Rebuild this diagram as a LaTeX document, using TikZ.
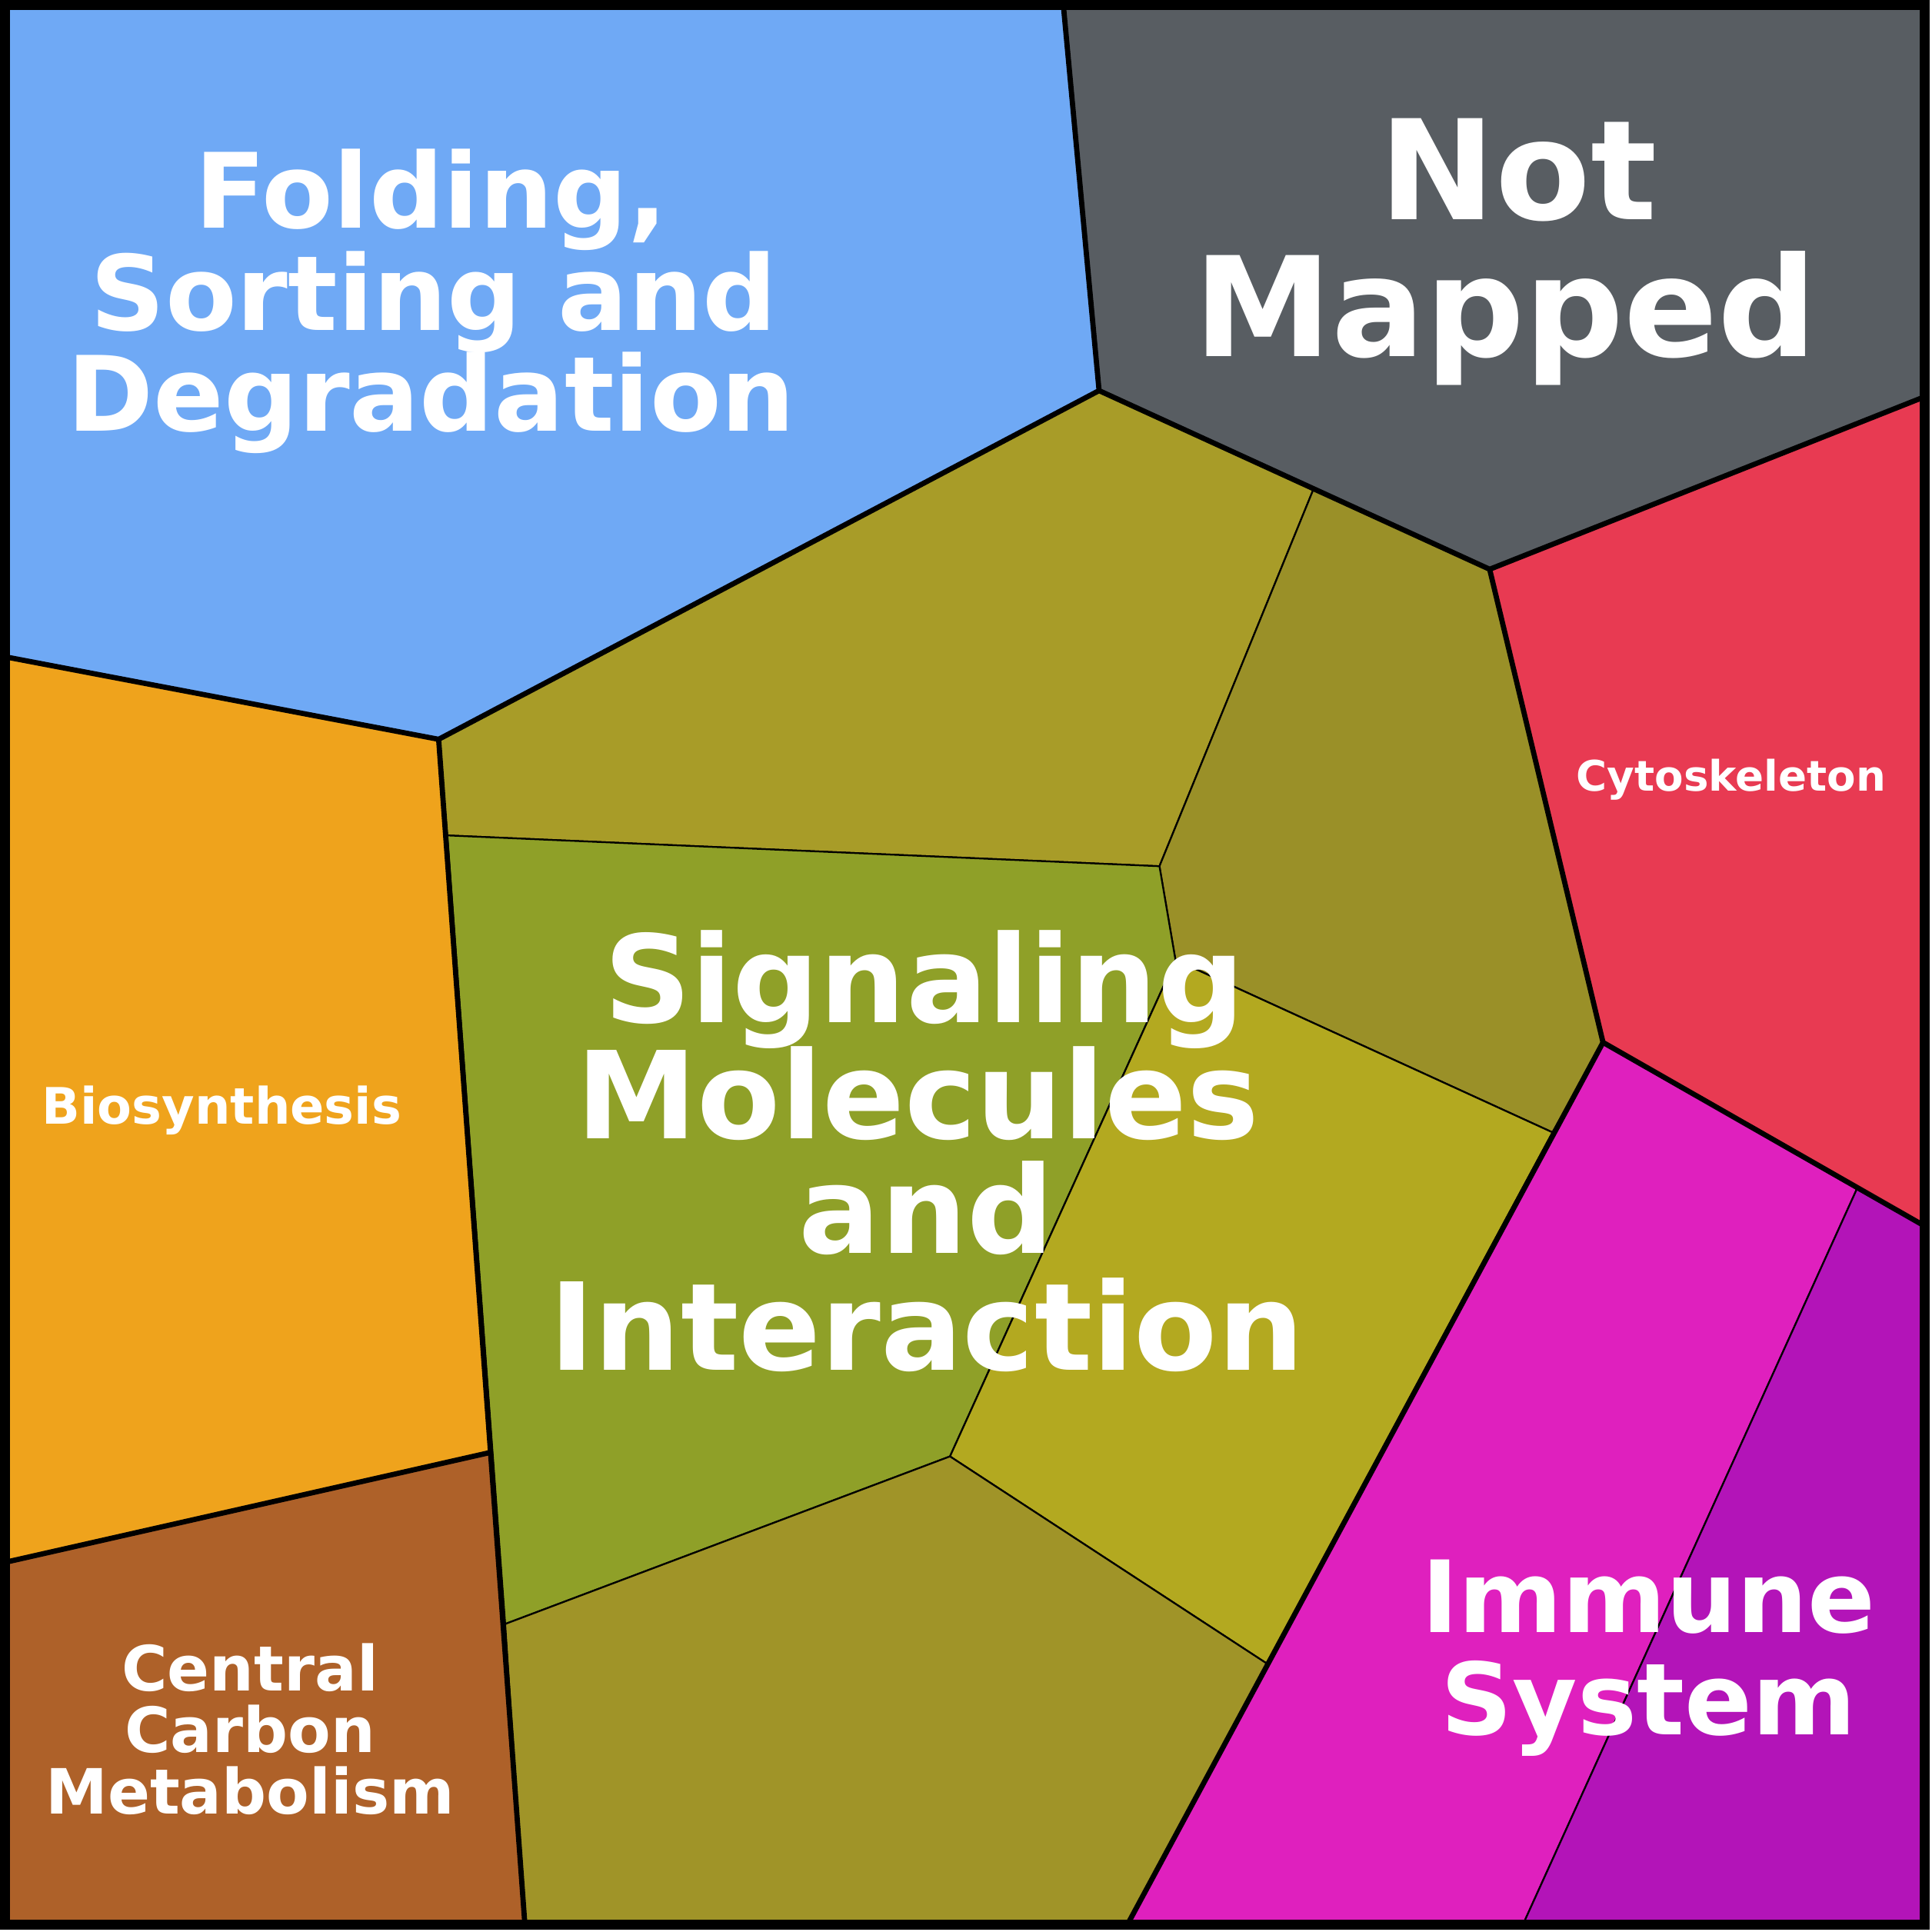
\documentclass[tikz,border=0pt]{standalone}
\usepackage{fontspec}
\setmainfont{DejaVu Sans}
\begin{document}
\begin{tikzpicture}[x=0.01cm,y=-0.01cm,
 cell/.style={draw=black,line width=0.4pt},
 grp/.style={draw=black,line width=1.2pt,line join=round},
 lab/.style={anchor=base,text=white,inner sep=0pt,font=\bfseries}]
\useasboundingbox (0,0) rectangle (1568,1568);
\coordinate (TL) at (4,4); \coordinate (TR) at (1562,4);
\coordinate (BL) at (4,1562); \coordinate (BR) at (1562,1562);
\coordinate (A) at (863,4); \coordinate (B) at (892,317);
\coordinate (C) at (1209,462); \coordinate (D) at (1562,322);
\coordinate (E) at (1301,846); \coordinate (F) at (1562,995);
\coordinate (G) at (915,1562); \coordinate (H) at (426,1562);
\coordinate (I) at (356,600); \coordinate (J) at (4,533);
\coordinate (K) at (397,1179); \coordinate (L) at (4,1268);
\coordinate (M) at (1066,397); \coordinate (N) at (941,703);
\coordinate (O) at (363,678); \coordinate (Q) at (954,779);
\coordinate (R) at (1260,919); \coordinate (S) at (771,1182);
\coordinate (T) at (410,1318); \coordinate (U) at (1028,1350);
\coordinate (V) at (1507,965); \coordinate (W) at (1236,1562);
\definecolor{cblue}{HTML}{6FA9F5}\definecolor{cgrey}{HTML}{585D62}
\definecolor{cred}{HTML}{E83A52}\definecolor{corange}{HTML}{EFA31C}
\definecolor{cbrown}{HTML}{AE6129}\definecolor{cmag}{HTML}{DF20BE}
\definecolor{cpur}{HTML}{B314B8}\definecolor{col1}{HTML}{A89C28}
\definecolor{col2}{HTML}{9A9028}\definecolor{col3}{HTML}{8FA028}
\definecolor{col4}{HTML}{B3A920}\definecolor{col5}{HTML}{A09428}
\fill[cblue] (TL)--(A)--(B)--(I)--(J)--cycle;
\fill[cgrey] (A)--(TR)--(D)--(C)--(B)--cycle;
\fill[cred] (C)--(D)--(F)--(E)--cycle;
\fill[corange] (J)--(I)--(K)--(L)--cycle;
\fill[cbrown] (L)--(K)--(H)--(BL)--cycle;
\filldraw[fill=cmag,cell] (E)--(V)--(W)--(G)--cycle;
\filldraw[fill=cpur,cell] (V)--(F)--(BR)--(W)--cycle;
\filldraw[fill=col1,cell] (I)--(B)--(M)--(N)--(O)--cycle;
\filldraw[fill=col2,cell] (M)--(C)--(E)--(R)--(Q)--(N)--cycle;
\filldraw[fill=col3,cell] (O)--(N)--(Q)--(S)--(T)--cycle;
\filldraw[fill=col4,cell] (Q)--(R)--(U)--(S)--cycle;
\filldraw[fill=col5,cell] (T)--(S)--(U)--(G)--(H)--cycle;
\draw[grp] (A)--(B)--(I)--(J);
\draw[grp] (B)--(C)--(D);
\draw[grp] (C)--(E)--(F);
\draw[grp] (I)--(H);
\draw[grp] (K)--(L);
\draw[grp] (E)--(G);
\draw[draw=black,line width=2.3pt] (TL) rectangle (BR);
\begin{scope}[lab/.append style={font=\bfseries\fontsize{24}{24}\selectfont}]
\node[lab] (f1) at (350,185) {Folding,};
\node[lab] (f2) at (352,268) {Sorting and};
\node[lab] (f3) at (350,350) {Degradation};
\end{scope}
\begin{scope}[lab/.append style={font=\bfseries\fontsize{32}{32}\selectfont}]
\node[lab] (n1) at (1232,178) {Not};
\node[lab] (n2) at (1222,289) {Mapped};
\end{scope}
\begin{scope}[lab/.append style={font=\bfseries\fontsize{28}{28}\selectfont}]
\node[lab] (s1) at (750,830) {Signaling};
\node[lab] (s2) at (745,924) {Molecules};
\node[lab] (s3) at (752,1017) {and};
\node[lab] (s4) at (752,1112) {Interaction};
\end{scope}
\begin{scope}[lab/.append style={font=\bfseries\fontsize{23}{23}\selectfont}]
\node[lab] (i1) at (1338,1325) {Immune};
\node[lab] (i2) at (1338,1408) {System};
\end{scope}
\begin{scope}[lab/.append style={font=\bfseries\fontsize{14.4}{14.4}\selectfont}]
\node[lab] (c1) at (203,1372) {Central};
\node[lab] (c2) at (203,1422) {Carbon};
\node[lab] (c3) at (203,1472) {Metabolism};
\end{scope}
\node[lab,font=\bfseries\fontsize{11.6}{11.6}\selectfont] (bio) at (180,912) {Biosynthesis};
\node[lab,font=\bfseries\fontsize{9.7}{9.7}\selectfont] (cyt) at (1405,642) {Cytoskeleton};
\end{tikzpicture}
\end{document}
